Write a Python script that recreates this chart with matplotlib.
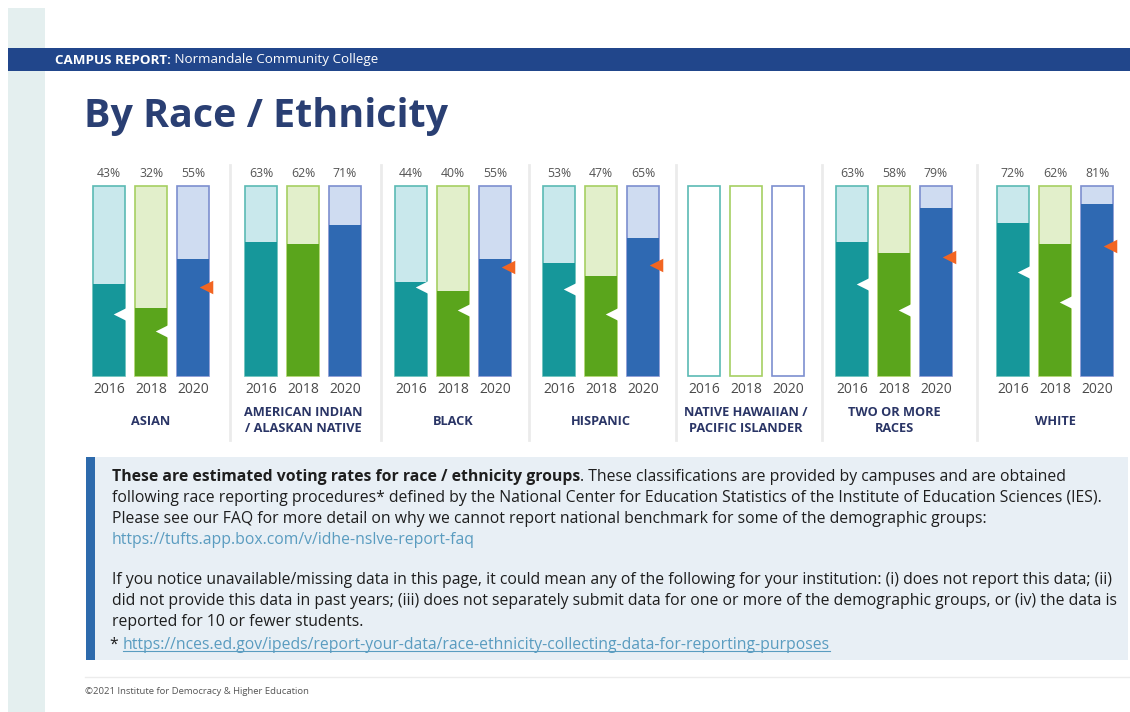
import matplotlib
matplotlib.use("Agg")
import matplotlib.pyplot as plt
from matplotlib.patches import Rectangle

# ---------------------------------------------------------------------------
# Data (voting rates, %) — None means not reported
# ---------------------------------------------------------------------------
groups = ["ASIAN", "AMERICAN INDIAN\n/ ALASKAN NATIVE", "BLACK", "HISPANIC",
          "NATIVE HAWAIIAN /\nPACIFIC ISLANDER", "TWO OR MORE\nRACES", "WHITE"]
years = ["2016", "2018", "2020"]
rate_2016 = [43, 63, 44, 53, None, 63, 72]
rate_2018 = [32, 62, 40, 47, None, 58, 62]
rate_2020 = [55, 71, 55, 65, None, 79, 81]
# national benchmark markers
bench_2016 = [29, None, 42, 41, None, 43, 49]
bench_2018 = [21, None, 31, 29, None, 31, 35]
bench_2020 = [42, None, 51, 52, None, 56, 61]

# ---------------------------------------------------------------------------
# Layout
# ---------------------------------------------------------------------------
W, H = 1130, 712
BAR_MAX = 89.5                                        # background bar, in %
GROUP_PX = [151, 303, 453, 601, 746, 894, 1055]       # panel centres, px
SEP_PX = [230, 381, 529, 676, 822, 977]               # panel separators, px

dark = ["#16979a", "#5aa51c", "#2f69b2"]
light = ["#c9e8ec", "#e2efcb", "#cfdcf1"]
edge = ["#5bbab4", "#a6cf62", "#7d8fcf"]
bench_color = ["white", "white", "#f26522"]

fig = plt.figure(figsize=(W / 100, H / 100), dpi=100)

# page overlay in pixel coordinates
page = fig.add_axes([0, 0, 1, 1])
page.set_xlim(0, W)
page.set_ylim(H, 0)
page.axis("off")

page.add_patch(Rectangle((8, 8), 37, H, color="#e4efef", lw=0))
page.add_patch(Rectangle((8, 48), W - 8, 23, color="#21468b", lw=0))
t = page.text(55, 60, "CAMPUS REPORT:", color="white", fontsize=9.6,
              fontweight="bold", family="Open Sans", va="center")
page.annotate(" Normandale Community College", xy=(1, 0.5), xycoords=t,
              va="center", color="white", fontsize=9.6, family="Open Sans")
page.text(84, 116, "By Race / Ethnicity", color="#2a3f73", fontsize=28.4,
          fontweight="bold", family="Open Sans", va="center")

# explanatory box
page.add_patch(Rectangle((86, 457), W - 88, 203, color="#e8eff5", lw=0))
page.add_patch(Rectangle((86, 457), 9, 203, color="#2d6aac", lw=0))
FS = 11.35
body = dict(fontsize=FS, family="Open Sans", color="#1e1e1e", va="center")
link = dict(fontsize=FS, family="Open Sans", color="#5a9cc0", va="center")
t = page.text(112, 477, "These are estimated voting rates for race / ethnicity groups",
              fontweight="bold", **body)
page.annotate(". These classifications are provided by campuses and are obtained",
              xy=(1, 0.5), xycoords=t, **body)
page.text(112, 498, "following race reporting procedures* defined by the National Center "
          "for Education Statistics of the Institute of Education Sciences (IES).", **body)
page.text(112, 519, "Please see our FAQ for more detail on why we cannot report national "
          "benchmark for some of the demographic groups:", **body)
page.text(112, 540, "https://tufts.app.box.com/v/idhe-nslve-report-faq", **link)
page.text(112, 580, "If you notice unavailable/missing data in this page, it could mean any "
          "of the following for your institution: (i) does not report this data; (ii)", **body)
page.text(112, 601, "did not provide this data in past years; (iii) does not separately submit "
          "data for one or more of the demographic groups, or (iv) the data is", **body)
page.text(112, 622, "reported for 10 or fewer students.", **body)
t = page.text(110, 645, "* ", **body)
l2 = page.annotate("https://nces.ed.gov/ipeds/report-your-data/race-ethnicity-collecting-"
                   "data-for-reporting-purposes", xy=(1, 0.5), xycoords=t, **link)

page.plot([85, W], [677, 677], color="#ececec", lw=1)
page.text(85, 692, "\u00a92021 Institute for Democracy & Higher Education", fontsize=6.8,
          family="Open Sans", color="#555555", va="center")

# ---------------------------------------------------------------------------
# Bars (x in pixel units, y in %)
# ---------------------------------------------------------------------------
px_per_pct = 2.128
base_px = 376
ax = fig.add_axes([0, 1 - 445 / H, 1, 290 / H])
ax.set_xlim(0, W)
ax.set_ylim((base_px - 445) / px_per_pct, (base_px - 155) / px_per_pct)
ax.axis("off")

offset = 42
width = 32
notch = 10

series = [rate_2016, rate_2018, rate_2020]
benches = [bench_2016, bench_2018, bench_2020]

for g, name in enumerate(groups):
    gx = GROUP_PX[g]
    for k in range(3):
        x = gx + (k - 1) * offset
        v = series[k][g]
        b = benches[k][g]
        if v is None:
            ax.bar(x, BAR_MAX, width, color="white", edgecolor=edge[k], lw=1.2)
        else:
            ax.bar(x, BAR_MAX, width, color=light[k], edgecolor=edge[k], lw=1.2)
            ax.bar(x, v, width, color=dark[k], lw=0)
            ax.text(x, BAR_MAX + 5.6, f"{v}%", ha="center", va="center",
                    fontsize=8.8, color="#555555", family="Open Sans")
        if b is not None:
            dx = width / 2 - notch / 2 + (2 if k == 2 else 0)
            ax.scatter(x + dx, b, marker="<", s=95, color=bench_color[k],
                       lw=0, zorder=5)
        ax.text(x, -6.3, years[k], ha="center", va="center", fontsize=10,
                color="#4a4a4a", family="Open Sans")
    two_line = "\n" in name
    ax.text(gx, -20.8 if two_line else -21.5, name, ha="center", va="center",
            fontsize=9.2, fontweight="bold", color="#2a3566", family="Open Sans",
            linespacing=1.35)

for sx in SEP_PX:
    ax.plot([sx, sx], [-30, 99], color="#ebebeb", lw=2)

# underline the second link
fig.canvas.draw()
r = fig.canvas.get_renderer()
inv = page.transData.inverted()
bb = l2.get_window_extent(r)
(x0, y0), (x1, _) = inv.transform([[bb.x0, bb.y0], [bb.x1, bb.y0]])
page.plot([x0, x1], [y0 - 2, y0 - 2], color="#5a9cc0", lw=0.8)

fig.savefig("out.png", dpi=100)
